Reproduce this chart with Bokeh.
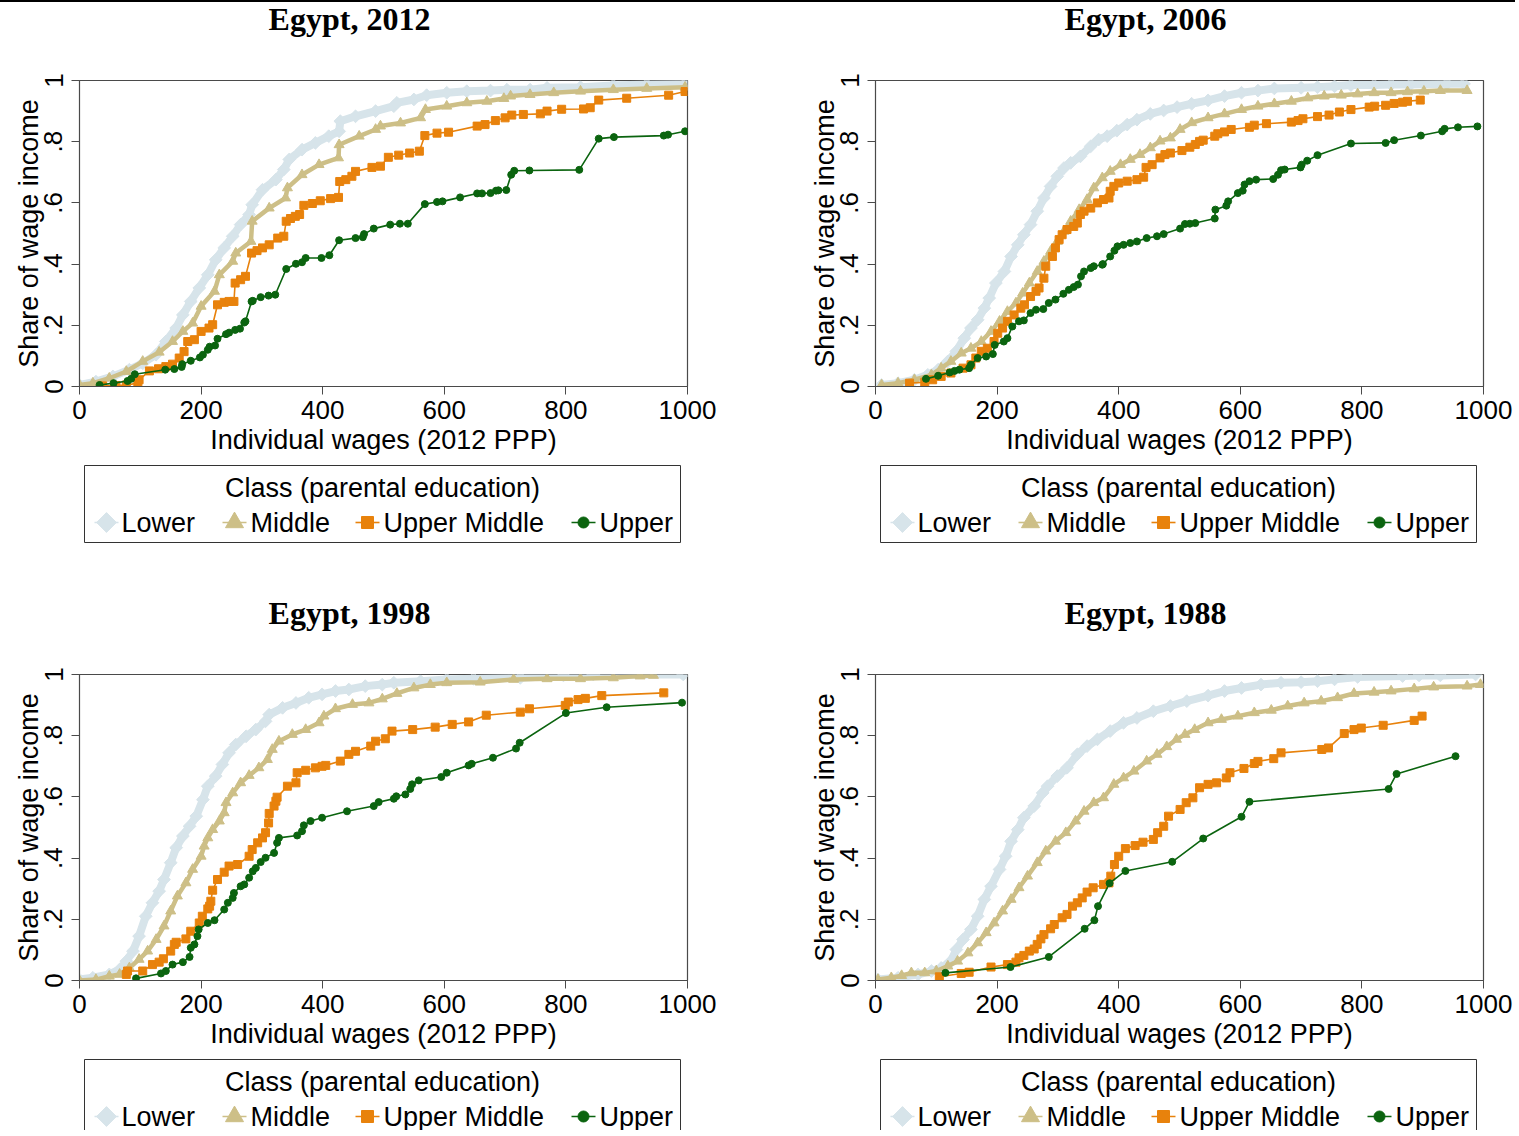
import math
from bokeh.plotting import figure
from bokeh.layouts import column, row
from bokeh.models import Range1d, FixedTicker, ColumnDataSource, Div
from bokeh.embed import file_html
from bokeh.resources import INLINE
from bokeh.core.properties import value

SANS = "Liberation Sans"
SERIF = "Liberation Serif"

# ---------------- data ----------------
TITLES = ["Egypt, 2012", "Egypt, 2006", "Egypt, 1998", "Egypt, 1988"]
CLASS_NAMES = ["Lower", "Middle", "Upper Middle", "Upper"]
LEGEND_TITLE = "Class (parental education)"
X_LABEL = "Individual wages (2012 PPP)"
Y_LABEL = "Share of wage income"
X_TICKS = [0, 200, 400, 600, 800, 1000]
Y_TICKS = [0, 0.2, 0.4, 0.6, 0.8, 1]
Y_TICK_LABELS = ["0", ".2", ".4", ".6", ".8", "1"]

# (wage, cumulative share) pairs
lower_2012 = [(0, 0.005), (27, 0.016), (55, 0.033), (82, 0.055), (104, 0.076), (126, 0.104), (142, 0.147),
              (159, 0.191), (170, 0.234), (183, 0.278), (197, 0.322), (211, 0.365), (224, 0.414), (238, 0.453),
              (252, 0.491), (265, 0.529), (279, 0.562), (284, 0.594), (301, 0.643), (323, 0.676), (336, 0.709),
              (345, 0.742), (366, 0.774), (388, 0.796), (410, 0.818), (427, 0.834), (429, 0.867), (454, 0.883),
              (487, 0.9), (517, 0.916), (522, 0.927), (550, 0.938), (571, 0.952), (604, 0.96), (637, 0.965),
              (676, 0.967), (703, 0.97), (741, 0.97), (769, 0.976), (824, 0.978), (878, 0.984), (933, 0.987),
              (996, 0.989)]
middle_2012 = [(0, 0.005), (22, 0.011), (49, 0.027), (77, 0.049), (104, 0.082), (131, 0.112), (153, 0.147),
               (170, 0.18), (186, 0.207), (200, 0.262), (222, 0.311), (230, 0.365), (252, 0.409), (257, 0.436),
               (282, 0.474), (284, 0.54), (312, 0.583), (339, 0.616), (342, 0.649), (366, 0.692), (394, 0.725),
               (426, 0.747), (427, 0.79), (460, 0.818), (487, 0.84), (495, 0.851), (528, 0.861), (561, 0.878),
               (569, 0.905), (604, 0.916), (637, 0.927), (670, 0.932), (698, 0.941), (709, 0.949), (741, 0.954),
               (780, 0.96), (824, 0.965), (878, 0.97), (933, 0.974), (996, 0.978)]
uppermid_2012 = [(38, 0.002), (60, 0.003), (77, 0.005), (96, 0.011), (98, 0.022), (115, 0.051), (130, 0.058),
                 (142, 0.065), (153, 0.073), (164, 0.093), (172, 0.114), (178, 0.147), (189, 0.153), (200, 0.18),
                 (213, 0.191), (219, 0.202), (227, 0.267), (238, 0.275), (246, 0.278), (254, 0.278), (256, 0.338),
                 (265, 0.349), (273, 0.36), (283, 0.436), (292, 0.444), (301, 0.453), (312, 0.463), (326, 0.485),
                 (336, 0.491), (340, 0.54), (347, 0.549), (355, 0.556), (362, 0.562), (369, 0.592), (383, 0.598),
                 (396, 0.607), (413, 0.614), (426, 0.618), (428, 0.67), (438, 0.676), (448, 0.687), (454, 0.703),
                 (481, 0.716), (495, 0.72), (508, 0.749), (525, 0.756), (543, 0.763), (559, 0.769), (568, 0.82),
                 (588, 0.828), (607, 0.831), (654, 0.851), (667, 0.856), (684, 0.869), (700, 0.878), (711, 0.887),
                 (730, 0.889), (758, 0.891), (769, 0.9), (793, 0.906), (829, 0.907), (840, 0.911), (854, 0.936),
                 (900, 0.942), (969, 0.952), (996, 0.964)]
upper_2012 = [(33, 0.005), (56, 0.011), (79, 0.018), (85, 0.025), (91, 0.04), (141, 0.055), (156, 0.057),
              (168, 0.064), (169, 0.073), (183, 0.084), (198, 0.095), (203, 0.104), (211, 0.12), (214, 0.13),
              (223, 0.134), (227, 0.156), (241, 0.171), (246, 0.176), (256, 0.185), (264, 0.189), (271, 0.209),
              (273, 0.213), (283, 0.278), (285, 0.28), (298, 0.292), (311, 0.297), (322, 0.3), (340, 0.384),
              (356, 0.401), (366, 0.406), (372, 0.42), (398, 0.42), (411, 0.429), (427, 0.478), (454, 0.485),
              (466, 0.488), (468, 0.498), (484, 0.516), (511, 0.529), (527, 0.532), (540, 0.532), (568, 0.596),
              (588, 0.603), (597, 0.605), (626, 0.618), (654, 0.631), (662, 0.631), (676, 0.632), (685, 0.64),
              (689, 0.641), (702, 0.642), (710, 0.692), (715, 0.705), (740, 0.706), (822, 0.708), (854, 0.81),
              (879, 0.815), (961, 0.82), (968, 0.823), (996, 0.834)]

lower_2006 = [(10, 0.005), (37, 0.011), (64, 0.022), (86, 0.038), (103, 0.055), (119, 0.082), (133, 0.115),
              (146, 0.158), (157, 0.191), (168, 0.218), (179, 0.256), (187, 0.289), (198, 0.338), (212, 0.376),
              (223, 0.425), (234, 0.463), (244, 0.496), (255, 0.529), (266, 0.573), (277, 0.616), (288, 0.654),
              (299, 0.687), (310, 0.714), (321, 0.731), (337, 0.752), (354, 0.785), (367, 0.807), (381, 0.818),
              (397, 0.836), (414, 0.856), (430, 0.872), (452, 0.891), (474, 0.902), (496, 0.913), (520, 0.924),
              (547, 0.935), (574, 0.949), (602, 0.96), (629, 0.967), (656, 0.974), (700, 0.976), (727, 0.978),
              (755, 0.981), (782, 0.985), (820, 0.985), (848, 0.987), (880, 0.987), (940, 0.989), (968, 0.989)]
middle_2006 = [(10, 0.005), (37, 0.011), (64, 0.022), (92, 0.038), (108, 0.06), (124, 0.082), (141, 0.109),
               (157, 0.125), (174, 0.147), (190, 0.18), (204, 0.213), (217, 0.245), (231, 0.273), (242, 0.305),
               (253, 0.338), (266, 0.376), (277, 0.409), (288, 0.442), (299, 0.474), (310, 0.507), (321, 0.54),
               (335, 0.578), (348, 0.611), (359, 0.649), (373, 0.682), (386, 0.703), (403, 0.725), (419, 0.742),
               (435, 0.758), (452, 0.78), (468, 0.802), (485, 0.812), (501, 0.84), (520, 0.862), (547, 0.878),
               (574, 0.891), (602, 0.905), (629, 0.916), (656, 0.924), (684, 0.932), (711, 0.943), (738, 0.949),
               (766, 0.952), (793, 0.956), (820, 0.96), (848, 0.96), (875, 0.963), (902, 0.965), (929, 0.967),
               (973, 0.967)]
uppermid_2006 = [(56, 0.011), (81, 0.014), (94, 0.022), (108, 0.033), (124, 0.044), (144, 0.06), (157, 0.071),
                 (165, 0.093), (174, 0.115), (184, 0.125), (195, 0.147), (201, 0.174), (209, 0.191), (217, 0.213),
                 (228, 0.234), (239, 0.256), (245, 0.267), (255, 0.294), (264, 0.311), (269, 0.322), (277, 0.354),
                 (280, 0.393), (291, 0.425), (296, 0.453), (302, 0.48), (307, 0.496), (315, 0.513), (326, 0.523),
                 (332, 0.534), (337, 0.562), (343, 0.573), (354, 0.583), (365, 0.6), (375, 0.611), (384, 0.616),
                 (386, 0.638), (392, 0.654), (400, 0.665), (414, 0.671), (430, 0.676), (441, 0.684), (445, 0.716),
                 (455, 0.725), (468, 0.747), (476, 0.758), (485, 0.763), (504, 0.771), (517, 0.782), (526, 0.791),
                 (533, 0.801), (539, 0.805), (558, 0.818), (563, 0.826), (574, 0.832), (585, 0.84), (615, 0.847),
                 (623, 0.854), (643, 0.859), (684, 0.864), (695, 0.869), (703, 0.875), (727, 0.882), (746, 0.887),
                 (763, 0.897), (782, 0.905), (812, 0.913), (821, 0.916), (839, 0.919), (853, 0.925), (867, 0.929),
                 (875, 0.932), (896, 0.936)]
upper_2006 = [(83, 0.025), (103, 0.035), (122, 0.046), (130, 0.051), (138, 0.055), (154, 0.06), (157, 0.071),
              (168, 0.093), (182, 0.098), (193, 0.106), (196, 0.136), (211, 0.147), (217, 0.158), (225, 0.196),
              (236, 0.213), (244, 0.216), (255, 0.24), (264, 0.251), (276, 0.253), (285, 0.273), (296, 0.284),
              (309, 0.303), (318, 0.316), (326, 0.325), (333, 0.333), (338, 0.36), (343, 0.376), (354, 0.387),
              (359, 0.393), (373, 0.398), (374, 0.4), (386, 0.425), (393, 0.444), (398, 0.458), (408, 0.463),
              (419, 0.469), (430, 0.474), (446, 0.485), (463, 0.491), (474, 0.498), (501, 0.516), (509, 0.531),
              (517, 0.532), (526, 0.534), (558, 0.549), (559, 0.578), (577, 0.591), (580, 0.605), (596, 0.632),
              (604, 0.64), (607, 0.66), (615, 0.671), (626, 0.676), (654, 0.678), (662, 0.692), (667, 0.707),
              (673, 0.709), (699, 0.716), (701, 0.725), (710, 0.738), (727, 0.756), (782, 0.794), (839, 0.796),
              (853, 0.805), (897, 0.82), (932, 0.834), (936, 0.842), (958, 0.847), (990, 0.85)]

lower_1998 = [(0, 0.003), (22, 0.009), (49, 0.02), (66, 0.036), (77, 0.063), (88, 0.096), (98, 0.145),
              (109, 0.21), (120, 0.254), (131, 0.292), (139, 0.33), (150, 0.385), (159, 0.434), (170, 0.472),
              (181, 0.504), (192, 0.537), (203, 0.591), (211, 0.635), (224, 0.668), (235, 0.706), (246, 0.744),
              (257, 0.771), (274, 0.798), (290, 0.82), (306, 0.847), (312, 0.869), (334, 0.891), (356, 0.907),
              (377, 0.924), (399, 0.935), (421, 0.946), (443, 0.951), (470, 0.962), (498, 0.967), (517, 0.973),
              (561, 0.978), (604, 0.984), (648, 0.986), (725, 0.989), (796, 0.997), (845, 1.0), (993, 1.0)]
middle_1998 = [(0, 0.0), (27, 0.003), (49, 0.014), (66, 0.02), (82, 0.041), (98, 0.069), (112, 0.096),
               (126, 0.134), (139, 0.178), (150, 0.227), (161, 0.276), (175, 0.319), (186, 0.363), (200, 0.406),
               (205, 0.439), (211, 0.466), (219, 0.493), (230, 0.521), (238, 0.548), (241, 0.581), (252, 0.613),
               (265, 0.646), (279, 0.67), (295, 0.695), (309, 0.722), (317, 0.755), (328, 0.782), (350, 0.804),
               (372, 0.82), (394, 0.842), (402, 0.864), (421, 0.888), (449, 0.902), (476, 0.907), (498, 0.92),
               (522, 0.938), (550, 0.956), (577, 0.967), (604, 0.973), (659, 0.975), (714, 0.984), (769, 0.986),
               (824, 0.986), (878, 0.989), (922, 0.995), (944, 0.997)]
uppermid_1998 = [(77, 0.02), (79, 0.031), (104, 0.031), (120, 0.052), (131, 0.06), (138, 0.071), (150, 0.096),
                 (156, 0.118), (159, 0.125), (175, 0.136), (183, 0.161), (197, 0.188), (202, 0.21), (211, 0.234),
                 (214, 0.243), (216, 0.259), (219, 0.295), (227, 0.33), (238, 0.354), (246, 0.374), (260, 0.379),
                 (279, 0.406), (284, 0.428), (293, 0.45), (301, 0.466), (306, 0.483), (311, 0.515), (312, 0.546),
                 (320, 0.57), (323, 0.586), (325, 0.599), (342, 0.635), (356, 0.646), (358, 0.679), (372, 0.687),
                 (388, 0.695), (399, 0.7), (405, 0.703), (429, 0.717), (443, 0.739), (454, 0.749), (479, 0.766),
                 (487, 0.782), (503, 0.79), (514, 0.815), (548, 0.82), (585, 0.828), (613, 0.837), (640, 0.845),
                 (669, 0.867), (725, 0.877), (740, 0.888), (799, 0.899), (804, 0.91), (820, 0.918), (832, 0.922),
                 (859, 0.931), (961, 0.94)]
upper_1998 = [(93, 0.007), (134, 0.023), (142, 0.031), (153, 0.052), (170, 0.06), (181, 0.077), (183, 0.107),
              (189, 0.118), (194, 0.145), (196, 0.167), (211, 0.188), (222, 0.197), (238, 0.232), (244, 0.254),
              (252, 0.27), (254, 0.286), (265, 0.308), (271, 0.314), (279, 0.336), (285, 0.357), (290, 0.368),
              (298, 0.387), (306, 0.401), (320, 0.417), (325, 0.45), (328, 0.466), (358, 0.474), (366, 0.488),
              (369, 0.507), (380, 0.521), (399, 0.532), (440, 0.553), (484, 0.57), (492, 0.583), (517, 0.594),
              (521, 0.602), (536, 0.608), (544, 0.626), (547, 0.641), (558, 0.654), (595, 0.665), (604, 0.679),
              (640, 0.703), (645, 0.708), (680, 0.728), (718, 0.758), (724, 0.777), (800, 0.874), (867, 0.893),
              (991, 0.908)]

lower_1988 = [(4, 0.003), (37, 0.009), (70, 0.02), (92, 0.031), (108, 0.041), (124, 0.063), (133, 0.101),
              (144, 0.134), (157, 0.167), (168, 0.21), (179, 0.265), (190, 0.308), (204, 0.363), (214, 0.406),
              (223, 0.455), (234, 0.493), (244, 0.532), (261, 0.57), (275, 0.613), (283, 0.635), (299, 0.668),
              (315, 0.695), (332, 0.739), (348, 0.766), (365, 0.788), (386, 0.815), (408, 0.842), (430, 0.858),
              (457, 0.88), (485, 0.897), (512, 0.913), (547, 0.931), (574, 0.946), (602, 0.956), (634, 0.967),
              (667, 0.973), (700, 0.975), (727, 0.978), (755, 0.984), (793, 0.992), (867, 0.995), (894, 0.997),
              (929, 0.997), (987, 1.0)]
middle_1988 = [(4, 0.003), (26, 0.009), (43, 0.016), (59, 0.025), (81, 0.025), (100, 0.031), (119, 0.047),
               (135, 0.063), (152, 0.09), (168, 0.123), (182, 0.156), (195, 0.188), (209, 0.227), (223, 0.265),
               (236, 0.303), (250, 0.341), (266, 0.385), (280, 0.423), (296, 0.455), (313, 0.483), (329, 0.521),
               (343, 0.553), (359, 0.581), (375, 0.597), (392, 0.641), (408, 0.662), (425, 0.684), (446, 0.717),
               (463, 0.739), (479, 0.764), (495, 0.788), (509, 0.804), (525, 0.82), (547, 0.842), (569, 0.853),
               (596, 0.864), (623, 0.875), (651, 0.883), (678, 0.897), (705, 0.907), (733, 0.913), (760, 0.924),
               (787, 0.938), (820, 0.942), (848, 0.946), (886, 0.953), (918, 0.959), (973, 0.962), (995, 0.967)]
uppermid_1988 = [(105, 0.012), (141, 0.023), (154, 0.027), (190, 0.044), (217, 0.052), (231, 0.06), (236, 0.074),
                 (244, 0.082), (253, 0.096), (261, 0.103), (266, 0.118), (272, 0.136), (277, 0.15), (288, 0.169),
                 (294, 0.183), (307, 0.205), (315, 0.216), (324, 0.243), (332, 0.254), (340, 0.27), (348, 0.289),
                 (358, 0.303), (375, 0.314), (384, 0.319), (387, 0.341), (393, 0.379), (400, 0.406), (411, 0.431),
                 (427, 0.441), (440, 0.452), (457, 0.461), (464, 0.483), (474, 0.504), (482, 0.537), (501, 0.559),
                 (511, 0.581), (522, 0.597), (533, 0.63), (547, 0.641), (561, 0.646), (577, 0.662), (583, 0.679),
                 (606, 0.693), (623, 0.709), (629, 0.716), (655, 0.725), (667, 0.744), (734, 0.755), (745, 0.76),
                 (771, 0.807), (787, 0.82), (799, 0.825), (835, 0.834), (886, 0.85), (899, 0.864)]
upper_1988 = [(115, 0.025), (222, 0.044), (285, 0.077), (344, 0.169), (360, 0.197), (366, 0.243), (385, 0.318),
              (411, 0.358), (488, 0.388), (539, 0.464), (602, 0.535), (615, 0.584), (844, 0.626), (857, 0.675),
              (954, 0.733)]

PANELS = [
    {"Lower": lower_2012, "Middle": middle_2012, "Upper Middle": uppermid_2012, "Upper": upper_2012},
    {"Lower": lower_2006, "Middle": middle_2006, "Upper Middle": uppermid_2006, "Upper": upper_2006},
    {"Lower": lower_1998, "Middle": middle_1998, "Upper Middle": uppermid_1998, "Upper": upper_1998},
    {"Lower": lower_1988, "Middle": middle_1988, "Upper Middle": uppermid_1988, "Upper": upper_1988},
]

# ---------------- styles ----------------
STYLE = {
    "Lower":        dict(color="#d7e4ea", marker="square",   angle=math.pi / 4, size=9,  lsize=14, lw=8,   llw=1.6),
    "Middle":       dict(color="#cdbf87", marker="triangle", angle=0.0,         size=10, lsize=18, lw=4.5, llw=1.6),
    "Upper Middle": dict(color="#e8820c", marker="square",   angle=0.0,         size=8,  lsize=12, lw=1.6, llw=1.6),
    "Upper":        dict(color="#0b640f", marker="circle",   angle=0.0,         size=7,  lsize=11, lw=1.6, llw=1.6),
}
FRAME_COLOR = "#4a4a4a"
TICK_FS = "26px"
LABEL_FS = "27px"

# layout geometry (pixels)
TOTAL_W = 1515
COL_W = [796, 719]
FRAME_L = [79, 875]          # frame left edge in page pixels for each column
FRAME_W = 608
MB_LEFT = 79
RULE_H = 2
TITLE_H = [38, 40]
PLOT_H = 420
LEG_H = [134, 76]


def blank_fig(w, h, col, mb_right):
    x0 = FRAME_L[col]
    f = figure(width=w, height=h, x_range=Range1d(x0, x0 + FRAME_W), y_range=Range1d(h, 0),
               x_axis_location=None, y_axis_location=None, toolbar_location=None,
               output_backend="svg", min_border_left=MB_LEFT, min_border_right=mb_right,
               min_border_top=0, min_border_bottom=0)
    f.outline_line_color = None
    f.grid.visible = False
    return f


def title_fig(text, w, col, mb_right, r):
    h = TITLE_H[r]
    t = blank_fig(w, h, col, mb_right)
    cx = FRAME_L[col] + 270
    t.text(x=[cx], y=[h - 21.5], text=[text], text_font=value(SERIF), text_font_style="bold",
           text_font_size="32px", text_align="center", text_baseline="middle", text_color="black")
    return t


def plot_fig(series, w, mb_right):
    p = figure(width=w, height=PLOT_H, x_range=Range1d(0, 1000), y_range=Range1d(0, 1),
               output_backend="svg", toolbar_location=None,
               min_border_left=MB_LEFT, min_border_right=mb_right, min_border_top=40, min_border_bottom=74)
    p.grid.visible = False
    p.outline_line_color = FRAME_COLOR
    p.outline_line_width = 1.2
    for name in CLASS_NAMES:
        pts = series[name]
        st = STYLE[name]
        src = ColumnDataSource(dict(x=[a for a, b in pts], y=[b for a, b in pts]))
        p.line("x", "y", source=src, line_color=st["color"], line_width=st["lw"], line_join="round")
        p.scatter("x", "y", source=src, marker=st["marker"], size=st["size"], angle=st["angle"],
                  fill_color=st["color"], line_color=st["color"])
    p.xaxis.ticker = FixedTicker(ticks=X_TICKS)
    p.yaxis.ticker = FixedTicker(ticks=Y_TICKS)
    p.yaxis.major_label_overrides = dict(zip(Y_TICKS, Y_TICK_LABELS))
    p.yaxis.major_label_orientation = "vertical"
    p.xaxis.axis_label = X_LABEL
    p.yaxis.axis_label = Y_LABEL
    for ax in (p.xaxis[0], p.yaxis[0]):
        ax.major_label_text_font = SANS
        ax.major_label_text_font_size = TICK_FS
        ax.major_label_text_color = "black"
        ax.axis_label_text_font = SANS
        ax.axis_label_text_font_size = LABEL_FS
        ax.axis_label_text_font_style = "normal"
        ax.axis_label_text_color = "black"
        ax.major_tick_out = 8
        ax.major_tick_in = 0
        ax.minor_tick_line_color = None
        ax.axis_line_color = FRAME_COLOR
        ax.major_tick_line_color = FRAME_COLOR
    p.xaxis.major_label_standoff = 6
    p.xaxis.axis_label_standoff = 3
    p.yaxis.major_label_standoff = 9
    p.yaxis.axis_label_standoff = -2
    return p


# legend layout, relative to the frame's left edge
LEG_BOX = (5, 601, 5, 82)
LEG_MARK_DX = [27, 155, 288, 504]
LEG_TEXT_DX = [42, 171, 304, 520]


def legend_fig(w, h, col, mb_right):
    lf = blank_fig(w, h, col, mb_right)
    x0 = FRAME_L[col]
    lf.quad(left=[x0 + LEG_BOX[0]], right=[x0 + LEG_BOX[1]], top=[LEG_BOX[2]], bottom=[LEG_BOX[3]],
            fill_color=None, line_color="#333333", line_width=1)
    lf.text(x=[x0 + (LEG_BOX[0] + LEG_BOX[1]) / 2], y=[27], text=[LEGEND_TITLE], text_font=value(SANS),
            text_font_size=LABEL_FS, text_align="center", text_baseline="middle", text_color="black")
    for name, mdx, tdx in zip(CLASS_NAMES, LEG_MARK_DX, LEG_TEXT_DX):
        st = STYLE[name]
        mx = x0 + mdx
        lf.line(x=[mx - 12, mx + 12], y=[62, 62], line_color=st["color"], line_width=st["llw"])
        lf.scatter(x=[mx], y=[62], marker=st["marker"], size=st["lsize"], angle=st["angle"],
                   fill_color=st["color"], line_color=st["color"])
        lf.text(x=[x0 + tdx], y=[62], text=[name], text_font=value(SANS), text_font_size=LABEL_FS,
                text_align="left", text_baseline="middle", text_color="black")
    return lf


cols = []
for i, (title, series) in enumerate(zip(TITLES, PANELS)):
    c = i % 2
    r = i // 2
    w = COL_W[c]
    mb_right = w - MB_LEFT - FRAME_W
    cols.append(column(title_fig(title, w, c, mb_right, r),
                       plot_fig(series, w, mb_right),
                       legend_fig(w, LEG_H[r], c, mb_right)))

rule = Div(text="", width=TOTAL_W, height=RULE_H, margin=0,
           styles={"background-color": "#000000"})
layout = column(rule, row(cols[0], cols[1]), row(cols[2], cols[3]))
open("out.html", "w").write(file_html(layout, INLINE))
